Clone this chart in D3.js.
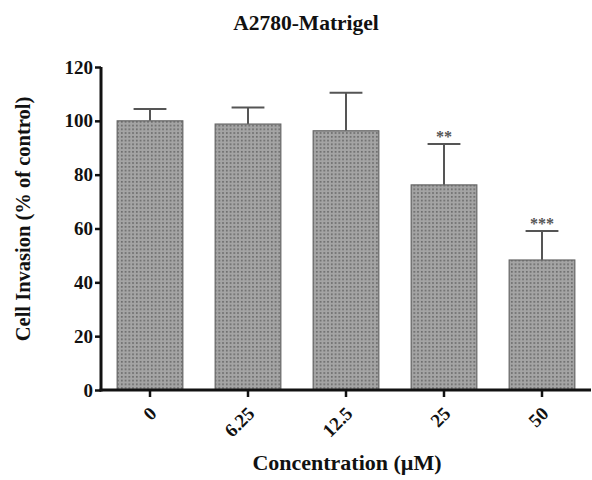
<!DOCTYPE html>
<html>
<head>
<meta charset="utf-8">
<script src="https://cdn.jsdelivr.net/npm/d3@7"></script>
<style>
body { margin: 0; background: #fff; }
svg { display: block; }
text { font-family: "Liberation Serif", "DejaVu Serif", serif; font-weight: bold; fill: #111; }
</style>
</head>
<body>
<svg width="592" height="480"></svg>
<script>
var categories = ["0", "6.25", "12.5", "25", "50"];
var means = [100, 98.8, 96.3, 76.2, 48.3];
var errors = [4.4, 6.2, 14.1, 15.2, 10.8];
var stars = ["", "", "", "**", "***"];
var yTicks = [0, 20, 40, 60, 80, 100, 120];

var svg = d3.select("svg");

var x = d3.scaleBand()
    .domain(categories)
    .range([101, 591])
    .paddingInner(0.33)
    .paddingOuter(0.165);

var y = d3.scaleLinear()
    .domain([0, 120])
    .range([390, 67]);

// dotted fill
var defs = svg.append("defs");
var pat = defs.append("pattern")
    .attr("id", "dots")
    .attr("patternUnits", "userSpaceOnUse")
    .attr("width", 3.75)
    .attr("height", 3.75);
pat.append("rect").attr("width", 3.75).attr("height", 3.75).attr("fill", "#a4a4a4");
pat.append("rect").attr("x", 1).attr("y", 1).attr("width", 1.6).attr("height", 1.6).attr("fill", "#646464");

// error bars first so bar covers the lower part
var err = svg.selectAll(".err")
    .data(categories)
    .enter().append("g")
    .attr("class", "err")
    .attr("stroke", "#555")
    .attr("stroke-width", 2);

err.append("line")
    .attr("x1", function(d) { return x(d) + x.bandwidth() / 2; })
    .attr("x2", function(d) { return x(d) + x.bandwidth() / 2; })
    .attr("y1", function(d, i) { return y(means[i]); })
    .attr("y2", function(d, i) { return y(means[i] + errors[i]); });

err.append("line")
    .attr("x1", function(d) { return x(d) + x.bandwidth() / 4; })
    .attr("x2", function(d) { return x(d) + x.bandwidth() * 3 / 4; })
    .attr("y1", function(d, i) { return y(means[i] + errors[i]); })
    .attr("y2", function(d, i) { return y(means[i] + errors[i]); });

svg.selectAll(".bar")
    .data(categories)
    .enter().append("rect")
    .attr("class", "bar")
    .attr("x", function(d) { return x(d); })
    .attr("width", x.bandwidth())
    .attr("y", function(d, i) { return y(means[i]); })
    .attr("height", function(d, i) { return y(0) - y(means[i]); })
    .attr("fill", "url(#dots)")
    .attr("stroke", "#666")
    .attr("stroke-width", 1.2);

// significance stars
svg.selectAll(".star")
    .data(categories)
    .enter().append("text")
    .attr("class", "star")
    .attr("x", function(d) { return x(d) + x.bandwidth() / 2; })
    .attr("y", function(d, i) { return y(means[i] + errors[i]) - 2; })
    .attr("text-anchor", "middle")
    .style("font-size", "16px")
    .style("fill", "#555")
    .text(function(d, i) { return stars[i]; });

// y axis
var yAxis = svg.append("g")
    .attr("transform", "translate(101,0)")
    .call(d3.axisLeft(y).tickValues(yTicks).tickSize(6).tickPadding(2));
yAxis.select(".domain").attr("stroke", "#111").attr("stroke-width", 3).attr("d", "M0,67V391.5");
yAxis.selectAll(".tick line").attr("stroke", "#111").attr("stroke-width", 2.5);
yAxis.selectAll(".tick text")
    .style("font-size", "19px")
    .style("font-family", "Liberation Serif, serif")
    .style("font-weight", "bold")
    .attr("fill", "#111");

// x axis
var xAxis = svg.append("g")
    .attr("transform", "translate(0,390)")
    .call(d3.axisBottom(x).tickSize(7).tickSizeOuter(0));
xAxis.select(".domain").attr("stroke", "#111").attr("stroke-width", 3).attr("d", "M99.5,0H591");
xAxis.selectAll(".tick line").attr("stroke", "#111").attr("stroke-width", 2.5);
xAxis.selectAll(".tick text")
    .style("font-size", "19px")
    .style("font-family", "Liberation Serif, serif")
    .style("font-weight", "bold")
    .attr("fill", "#111")
    .attr("text-anchor", "end")
    .attr("dy", "0.35em")
    .attr("y", 0)
    .attr("transform", "translate(3,20) rotate(-45)");

// titles
svg.append("text")
    .attr("x", 306)
    .attr("y", 30)
    .attr("text-anchor", "middle")
    .style("font-size", "21.5px")
    .text("A2780-Matrigel");

svg.append("text")
    .attr("transform", "translate(30,219) rotate(-90)")
    .attr("text-anchor", "middle")
    .style("font-size", "20.5px")
    .text("Cell Invasion (% of control)");

svg.append("text")
    .attr("x", 347)
    .attr("y", 470)
    .attr("text-anchor", "middle")
    .style("font-size", "22px")
    .text("Concentration (\u00b5M)");
</script>
</body>
</html>
